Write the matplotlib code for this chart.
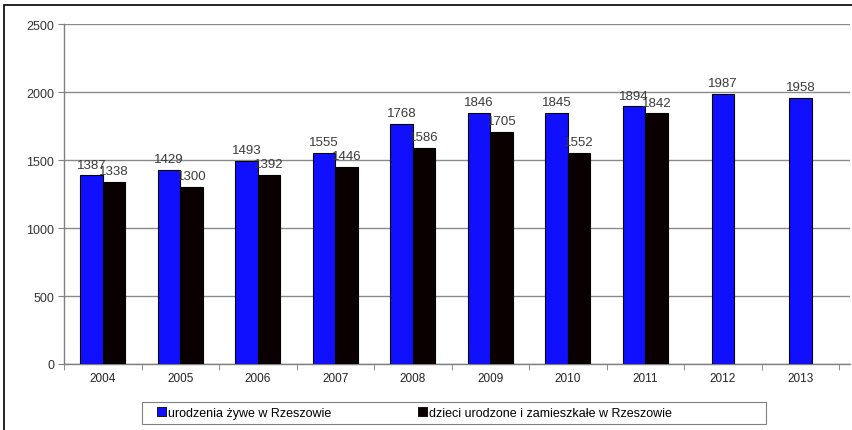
import numpy as np
import matplotlib
matplotlib.use("Agg")
import matplotlib.pyplot as plt
from matplotlib.patches import Rectangle

years = ["2004", "2005", "2006", "2007", "2008", "2009", "2010", "2011", "2012", "2013"]
urodzenia = [1387, 1429, 1493, 1555, 1768, 1846, 1845, 1894, 1987, 1958]
zamieszkale = [1338, 1300, 1392, 1446, 1586, 1705, 1552, 1842, None, None]
yticks = [0, 500, 1000, 1500, 2000, 2500]
legend_labels = ["urodzenia żywe w Rzeszowie", "dzieci urodzone i zamieszkałe w Rzeszowie"]

plt.rcParams["font.family"] = ["Liberation Sans", "DejaVu Sans"]

W, H = 853, 431
fig = plt.figure(figsize=(W / 100, H / 100), dpi=100)
fig.patches.append(Rectangle((4 / W, -0.01), 1.0, 1 - 6 / H + 0.01, transform=fig.transFigure,
                             fill=False, edgecolor="black", linewidth=1.2))

ax = fig.add_axes([64 / W, (H - 365) / H, (850 - 64) / W, (365 - 25) / H])

blue = "#1010ff"
dark = "#0a0000"
bw = 0.29
label_kw = dict(ha="center", va="bottom", fontsize=9.5, color="#3a3a3a")

for i, (a, b) in enumerate(zip(urodzenia, zamieszkale)):
    if b is None:
        ax.bar(i, a, width=bw, color=blue, edgecolor="black", linewidth=0.8, zorder=3)
        ax.annotate(str(a), (i, a), xytext=(0, 3.5), textcoords="offset points", **label_kw)
    else:
        ax.bar(i - bw / 2, a, width=bw, color=blue, edgecolor="black", linewidth=0.8, zorder=3)
        ax.bar(i + bw / 2, b, width=bw, color=dark, edgecolor="black", linewidth=0.8, zorder=3)
        ax.annotate(str(a), (i - bw / 2, a), xytext=(0, 3.5), textcoords="offset points", **label_kw)
        ax.annotate(str(b), (i + bw / 2, b), xytext=(0, 3.5), textcoords="offset points", **label_kw)

ax.set_ylim(0, 2500)
ax.set_yticks(yticks)
ax.set_yticklabels([str(v) for v in yticks], fontsize=9, color="#333333")
ax.set_xlim(-0.5, 9.64)
ax.set_xticks(range(len(years)))
ax.set_xticklabels(years, fontsize=8.5, color="#222222")
ax.set_xticks(np.arange(-0.5, 10, 1), minor=True)
ax.tick_params(axis="x", which="major", length=0, pad=6)
ax.tick_params(axis="x", which="minor", length=4, color="#808080", direction="out")
ax.tick_params(axis="y", length=4, color="#808080", direction="out", pad=3)

ax.grid(axis="y", color="#8a8a8a", linewidth=1.0, zorder=0)
for s in ["top", "right"]:
    ax.spines[s].set_visible(False)
for s in ["left", "bottom"]:
    ax.spines[s].set_color("#808080")
    ax.spines[s].set_linewidth(1.0)

# legend box drawn by hand so it can be wider than its contents
fig.patches.append(Rectangle((142 / W, 1 - 425 / H), 624 / W, 22 / H, transform=fig.transFigure,
                             fill=False, edgecolor="#808080", linewidth=0.8))
h1 = Rectangle((0, 0), 1, 1, facecolor=blue, edgecolor="black", linewidth=0.6)
h2 = Rectangle((0, 0), 1, 1, facecolor=dark, edgecolor="black", linewidth=0.6)
leg = fig.legend([h1, h2], legend_labels,
                 loc="center left", bbox_to_anchor=(157 / W, 1 - 414 / H),
                 ncol=2, frameon=False, prop={"size": 9},
                 handlelength=0.75, handleheight=0.75, handletextpad=0.15,
                 columnspacing=6.9, borderaxespad=0, borderpad=0)

fig.savefig("out.png", dpi=100)
